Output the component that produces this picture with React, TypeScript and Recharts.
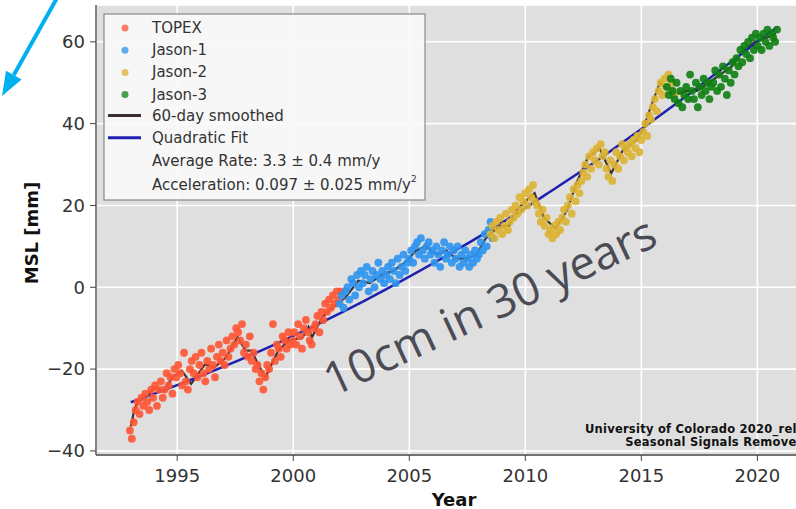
import React from 'react';
import { ComposedChart, Scatter, Line, XAxis, YAxis, CartesianGrid } from 'recharts';

const sampleStep = 1 / 12;
const topexStart = 1992.96;
const jason1Start = 2002.0;
const jason2Start = 2008.5;
const jason3Start = 2016.1;

const topexValues = [
  -35, -37, -33, -30, -28, -31, -27, -29, -26, -28, -30, -25,
  -27, -24, -29, -25, -23, -27, -25, -21, -24, -22, -26, -20,
  -22, -19, -21, -24, -16, -23, -25, -20, -18, -21, -17, -22,
  -19, -16, -21, -23, -18, -20, -15, -19, -22, -17, -14, -18,
  -16, -19, -13, -17, -15, -12, -14, -10, -11, -13, -9, -16,
  -14, -17, -12, -18, -16, -20, -19, -23, -21, -25, -22, -19,
  -20, -16, -9, -18, -14, -15, -17, -12, -13, -15, -11, -14,
  -13, -11, -14, -9, -12, -15, -10, -8, -11, -13, -14, -10,
  -9, -7, -11, -6, -8, -4, -6, -3, -5, -2, -4, -1,
  -3, -1,
];

const jason1Values = [
  -4, -2, -5, -1, 0, -3, 2, 1, -2, 3, 0, 4,
  1, 3, 5, -1, 2, 4, 0, 3, 6, 2, 4, 1,
  3, 5, 2, 6, 4, 1, 7, 3, 5, 8, 4, 6,
  7, 9, 6, 10, 11, 8, 12, 9, 7, 10, 11, 8,
  9, 6, 10, 8, 5, 9, 11, 7, 8, 10, 6, 9,
  7, 10, 5, 8, 6, 9, 7, 5, 8, 6, 9, 7,
  8, 11, 9, 13, 10, 14, 16, 12,
];

const jason2Values = [
  13, 15, 12, 16, 14, 17, 13, 15, 18, 14, 16, 19,
  17, 20, 18, 22, 19, 21, 23, 20, 24, 22, 25, 21,
  20, 18, 16, 19, 15, 17, 13, 14, 12, 15, 13, 16,
  14, 17, 19, 16, 20, 22, 18, 24, 21, 25, 23, 26,
  28, 30, 27, 32, 29, 33, 31, 34, 30, 35, 32, 33,
  29, 27, 31, 26, 30, 33, 29, 32, 35, 31, 34, 33,
  35, 32, 36, 34, 37, 33, 36, 38, 40, 37, 42, 41,
  44, 46, 43, 48, 50, 47, 51, 49, 52, 48, 50, 47,
];

const jason3Values = [
  49, 47, 51, 48, 46, 50, 45, 48, 44, 47, 49, 46,
  52, 48, 46, 50, 44, 49, 47, 51, 48, 50, 46, 49,
  50, 53, 48, 52, 49, 54, 51, 47, 53, 50, 55, 52,
  56, 54, 58, 55, 59, 57, 60, 56, 61, 58, 62, 59,
  61, 58, 62, 60, 63, 59, 62, 61, 60, 63,
];

const smoothYears = [
  1993.0, 1993.15, 1993.3, 1993.6, 1994.05, 1994.4, 1994.8, 1995.2, 1995.6, 1996.2,
  1996.6, 1997.1, 1997.6, 1997.95, 1998.2, 1998.5, 1998.8, 1999.35, 1999.8, 2000.4,
  2000.65, 2000.8, 2001.25, 2001.7, 2002.25, 2002.8, 2003.3, 2003.8, 2004.3, 2004.8,
  2005.3, 2005.7, 2006.2, 2006.6, 2007.0, 2007.5, 2007.9, 2008.3, 2008.7, 2008.9,
  2009.3, 2009.65, 2010.0, 2010.4, 2010.8, 2011.3, 2011.8, 2012.2, 2012.7, 2013.2,
  2013.7, 2014.2, 2014.8, 2015.1, 2015.4, 2015.8, 2016.0, 2016.4, 2016.9, 2017.4,
  2017.9, 2018.4, 2018.9, 2019.4, 2019.9, 2020.4, 2020.8,
];
const smoothValues = [
  -34, -30, -28, -27, -24.5, -25.5, -22, -20.4, -23.6, -18.8,
  -19.6, -17.2, -12.2, -15.5, -15.5, -19, -22, -15.5, -13, -12.3,
  -9.7, -12.3, -7.3, -4.9, -2.5, 1.6, 1, 3, 4, 6,
  9, 10, 8, 9, 7, 7, 8, 12, 14, 15,
  15, 19, 21, 23, 17, 14.4, 18.8, 25.4, 31.8, 34,
  27.8, 33.5, 36, 39, 44, 50, 49, 47, 48, 48,
  50, 52, 54, 58, 60, 61, 62,
];

const fitYears = [1993, 1995, 1997, 1999, 2001, 2003, 2005, 2007, 2009, 2011, 2013, 2015, 2017, 2019, 2020.85];
const fitValues = [-28.1, -23.9, -19.4, -14.5, -9.2, -3.5, 2.6, 9, 15.8, 23.1, 30.6, 38.7, 47, 55.7, 63.6];

const xMajorTicks = [1995, 2000, 2005, 2010, 2015, 2020];
const xMinorTicks = [1992, 1993, 1994, 1995, 1996, 1997, 1998, 1999, 2000, 2001, 2002, 2003, 2004, 2005, 2006, 2007, 2008, 2009, 2010, 2011, 2012, 2013, 2014, 2015, 2016, 2017, 2018, 2019, 2020, 2021, 2022];
const yMajorTicks = [-40, -20, 0, 20, 40, 60];
const yMinorTicks = [-40, -35, -30, -25, -20, -15, -10, -5, 0, 5, 10, 15, 20, 25, 30, 35, 40, 45, 50, 55, 60, 65];

const legendSeries = ['TOPEX', 'Jason-1', 'Jason-2', 'Jason-3'];
const legendLines = ['60-day smoothed', 'Quadratic Fit'];
const rateText = 'Average Rate: 3.3 ± 0.4 mm/y';
const accelText = 'Acceleration: 0.097 ± 0.025 mm/y';

const COLORS = ['#ff5533', '#2e93ee', '#ddb232', '#0e7f12'];
const SMOOTH_COLOR = '#3d2f2f';
const FIT_COLOR = '#2020b0';

const toSeries = (start: number, values: number[]) => values.map((v, i) => ({ t: start + i * sampleStep, v }));
const topexData = toSeries(topexStart, topexValues);
const jason1Data = toSeries(jason1Start, jason1Values);
const jason2Data = toSeries(jason2Start, jason2Values);
const jason3Data = toSeries(jason3Start, jason3Values);
const smoothData = smoothYears.map((t, i) => ({ t, v: smoothValues[i] }));
const fitData = fitYears.map((t, i) => ({ t, v: fitValues[i] }));

const makeDot = (color: string) => (props: any) => (
  <circle cx={props.cx} cy={props.cy} r={3.9} fill={color} fillOpacity={0.9} />
);

const fmtY = (v: number) => (v < 0 ? `\u2212${Math.abs(v)}` : `${v}`);
const FONT = 'DejaVu Sans, sans-serif';
const X_DOMAIN: [number, number] = [1991.5, 2023];
const Y_DOMAIN: [number, number] = [-41, 69];

export default function App() {
  return (
    <div style={{ position: 'absolute', left: 0, top: 0, width: 796, height: 509, overflow: 'hidden', background: '#fff' }}>
      <ComposedChart width={840} height={509} margin={{ top: 5, right: 13, bottom: 0, left: 0 }} style={{ fontFamily: FONT }}>
        <XAxis xAxisId="minor" type="number" dataKey="t" domain={X_DOMAIN} allowDataOverflow ticks={xMinorTicks}
          tick={false} tickSize={3} height={0} axisLine={false} tickLine={{ stroke: '#555' }} />
        <XAxis dataKey="t" type="number" domain={X_DOMAIN} allowDataOverflow ticks={xMajorTicks} height={54}
          tickSize={6} tickMargin={8} axisLine={{ stroke: '#444', strokeWidth: 1.3 }} tickLine={{ stroke: '#444' }}
          tick={{ fill: '#333', fontSize: 18, fontFamily: FONT }} />
        <XAxis xAxisId="top" orientation="top" type="number" dataKey="t" domain={X_DOMAIN} allowDataOverflow height={0}
          tick={false} tickLine={false} axisLine={{ stroke: '#8c8c8c', strokeWidth: 1.5 }} />
        <YAxis yAxisId="minor" type="number" dataKey="v" domain={Y_DOMAIN} allowDataOverflow ticks={yMinorTicks}
          tick={false} tickSize={3} width={0} axisLine={false} tickLine={{ stroke: '#555' }} />
        <YAxis dataKey="v" type="number" domain={Y_DOMAIN} allowDataOverflow ticks={yMajorTicks} width={96}
          tickFormatter={fmtY} tickSize={6} tickMargin={5} axisLine={{ stroke: '#444', strokeWidth: 1.3 }}
          tickLine={{ stroke: '#444' }} tick={{ fill: '#333', fontSize: 18, fontFamily: FONT }} />
        <CartesianGrid xAxisId="minor" yAxisId="minor" fill="#dfdfdf" stroke="#e9e9e9" strokeWidth={0.8} />
        <CartesianGrid stroke="#ffffff" strokeWidth={1.6} />
        <Scatter data={topexData} dataKey="v" fill={COLORS[0]} shape={makeDot(COLORS[0])} isAnimationActive={false} />
        <Scatter data={jason1Data} dataKey="v" fill={COLORS[1]} shape={makeDot(COLORS[1])} isAnimationActive={false} />
        <Scatter data={jason2Data} dataKey="v" fill={COLORS[2]} shape={makeDot(COLORS[2])} isAnimationActive={false} />
        <Scatter data={jason3Data} dataKey="v" fill={COLORS[3]} shape={makeDot(COLORS[3])} isAnimationActive={false} />
        <Line data={smoothData} dataKey="v" type="linear" stroke={SMOOTH_COLOR} strokeWidth={2.2} dot={false} isAnimationActive={false} />
        <Line data={fitData} dataKey="v" type="monotone" stroke={FIT_COLOR} strokeWidth={2.5} dot={false} isAnimationActive={false} />
      </ComposedChart>
      <svg width={796} height={509} style={{ position: 'absolute', left: 0, top: 0, pointerEvents: 'none' }}>
        <text x={31} y={233} transform="rotate(-90 31 233)" textAnchor="middle" dominantBaseline="central"
          fontFamily={FONT} fontWeight="bold" fontSize={18} fill="#111">MSL [mm]</text>
        <text x={454} y={506} textAnchor="middle" fontFamily={FONT} fontWeight="bold" fontSize={18} fill="#111">Year</text>
        <g fontFamily={FONT} fontSize={15} fill="#333">
          <rect x={104} y={14} width={321} height={186} fill="#fafafa" fillOpacity={0.9} stroke="#8a8a8a" strokeWidth={1.2} />
          {legendSeries.map((name, i) => (
            <g key={name}>
              <circle cx={125} cy={28 + i * 22.2} r={3.5} fill={COLORS[i]} fillOpacity={0.75} />
              <text x={152} y={28 + i * 22.2} dominantBaseline="central">{name}</text>
            </g>
          ))}
          {legendLines.map((name, i) => (
            <g key={name}>
              <line x1={108} x2={141} y1={115.5 + i * 22.3} y2={115.5 + i * 22.3} stroke={i === 0 ? SMOOTH_COLOR : FIT_COLOR} strokeWidth={3} />
              <text x={152} y={115.5 + i * 22.3} dominantBaseline="central">{name}</text>
            </g>
          ))}
          <text x={152} y={160.5} dominantBaseline="central">{rateText}</text>
          <text x={152} y={184.5} dominantBaseline="central">{accelText}<tspan fontSize={9} dy={-6}>2</tspan></text>
        </g>
        <g fontFamily={FONT} fontWeight="bold" fontSize={11.5} fill="#111" textAnchor="end" letterSpacing={0.25}>
          <text x={805} y={433}>University of Colorado 2020_rel1</text>
          <text x={805} y={446}>Seasonal Signals Removed</text>
        </g>
        <text x={333} y={397} transform="rotate(-25 333 397)" fontFamily="Open Sans, sans-serif" fontSize={46}
          fill="#4b4b55">10cm in 30 years</text>
        <line x1={57} y1={-2} x2={13.8} y2={75.1} stroke="#00b0f0" strokeWidth={4} />
        <polygon points="2,96 21.6,79.5 6,70.7" fill="#00b0f0" />
      </svg>
    </div>
  );
}
